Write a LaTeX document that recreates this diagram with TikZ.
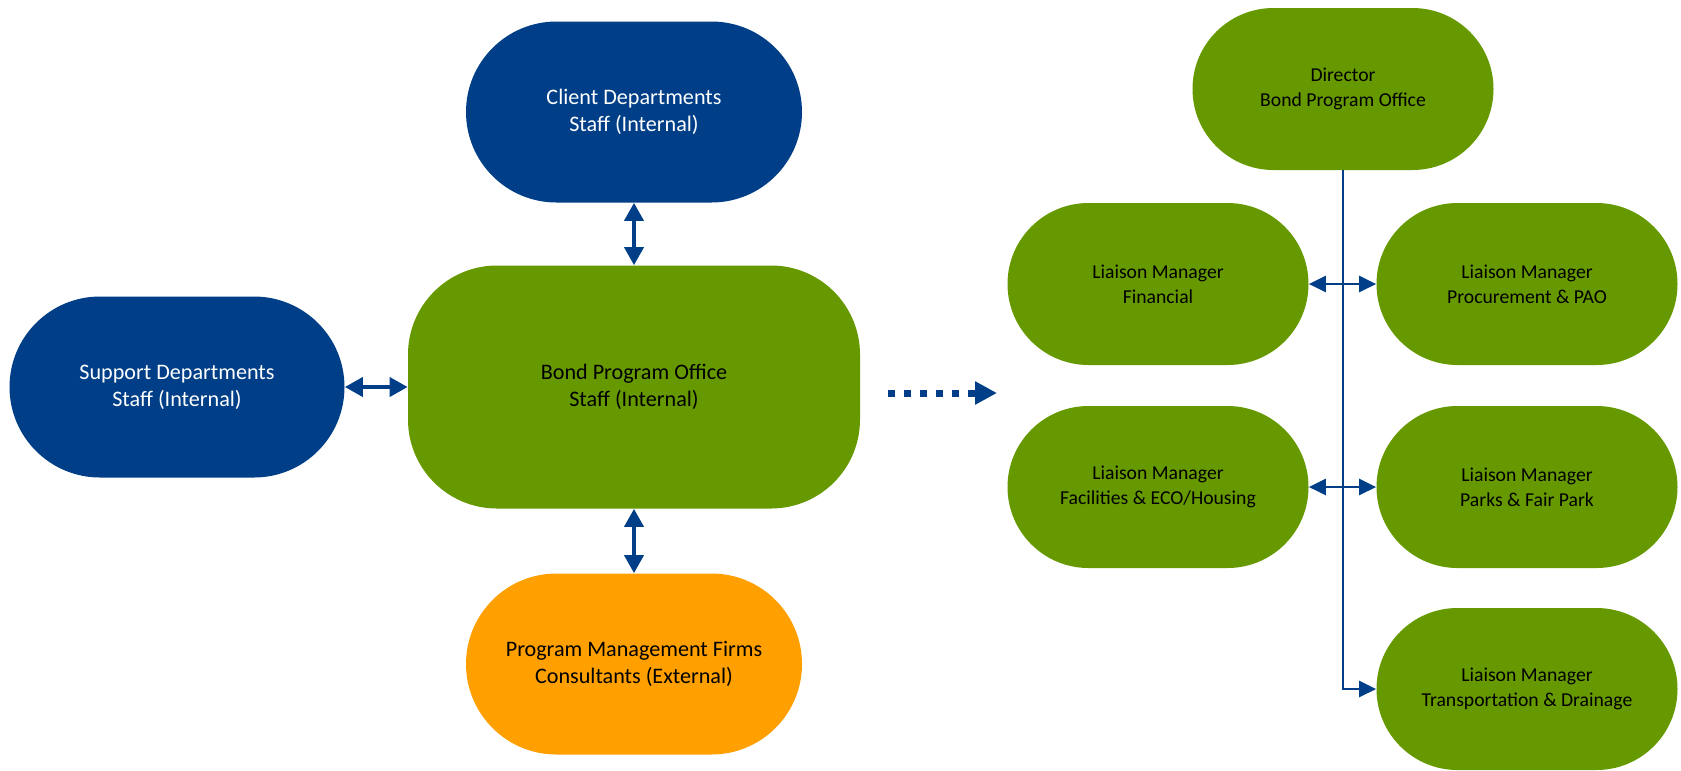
\documentclass[tikz,border=0pt]{standalone}
\usepackage{fontspec}
\setmainfont{Carlito}
\usetikzlibrary{arrows.meta, positioning}

\definecolor{bondblue}{RGB}{0,63,135}
\definecolor{bondgreen}{RGB}{102,153,0}
\definecolor{bondorange}{RGB}{255,160,0}

\begin{document}
\begin{tikzpicture}[
    every node/.style={align=center, inner sep=0pt},
    bigpill/.style={rectangle, rounded corners=1.81cm, minimum width=6.72cm, minimum height=3.62cm, font=\fontsize{12.6}{15.2}\selectfont},
    smallpill/.style={rectangle, rounded corners=1.62cm, minimum width=6.02cm, minimum height=3.24cm, fill=bondgreen, font=\fontsize{11.2}{14}\selectfont},
    link/.style={{Triangle[length=3.6mm, width=3.8mm]}-{Triangle[length=3.6mm, width=3.8mm]}, line width=2.2pt, bondblue},
    branch/.style={line width=1.5pt, bondblue, >={Triangle[length=3.4mm, width=3.2mm]}},
    dotarrow/.style={-{Triangle[length=4.4mm, width=4.4mm]}, line width=1.4mm, dash pattern=on 1.4mm off 1.8mm, bondblue}
]
\useasboundingbox (0,0) rectangle (33.62,-15.4);

% === LEFT: WHO THE OFFICE WORKS WITH ===
\node [bigpill, fill=bondgreen, minimum width=9.04cm, minimum height=4.86cm, rounded corners=1.78cm] (bpo) at (12.68,-7.74) {Bond Program Office\\Staff (Internal)};
\node [bigpill, fill=bondblue, text=white] (client) at (12.68,-2.24) {Client Departments\\Staff (Internal)};
\node [bigpill, fill=bondblue, text=white, minimum width=6.70cm] (support) at (3.54,-7.74) {Support Departments\\Staff (Internal)};
\node [bigpill, fill=bondorange] (pmf) at (12.68,-13.28) {Program Management Firms\\Consultants (External)};

\draw[link] (client) -- (bpo);
\draw[link] (support) -- (bpo);
\draw[link] (bpo) -- (pmf);

% === DOTTED ARROW ===
\coordinate (dotfrom) at (17.76,-7.86);
\coordinate (dotto) at (19.94,-7.86);
\draw[dotarrow] (dotfrom) -- (dotto);

% === RIGHT: OFFICE STRUCTURE ===
\node [smallpill] (director) at (26.86,-1.78) {Director\\Bond Program Office};
\node [smallpill] (financial) at (23.16,-5.68) {Liaison Manager\\Financial};
\node [smallpill] (procure) at (30.54,-5.68) {Liaison Manager\\Procurement \& PAO};
\node [smallpill] (facilities) at (23.16,-9.74) {Liaison Manager\\Facilities \& ECO/Housing};
\node [smallpill] (parks) at (30.54,-9.74) {Liaison Manager\\Parks \& Fair Park};
\node [smallpill] (transport) at (30.54,-13.78) {Liaison Manager\\Transportation \& Drainage};

\draw[branch, ->] (director.south) |- (transport.west);
\draw[branch, <->] (financial) -- (procure);
\draw[branch, <->] (facilities) -- (parks);

\end{tikzpicture}
\end{document}
